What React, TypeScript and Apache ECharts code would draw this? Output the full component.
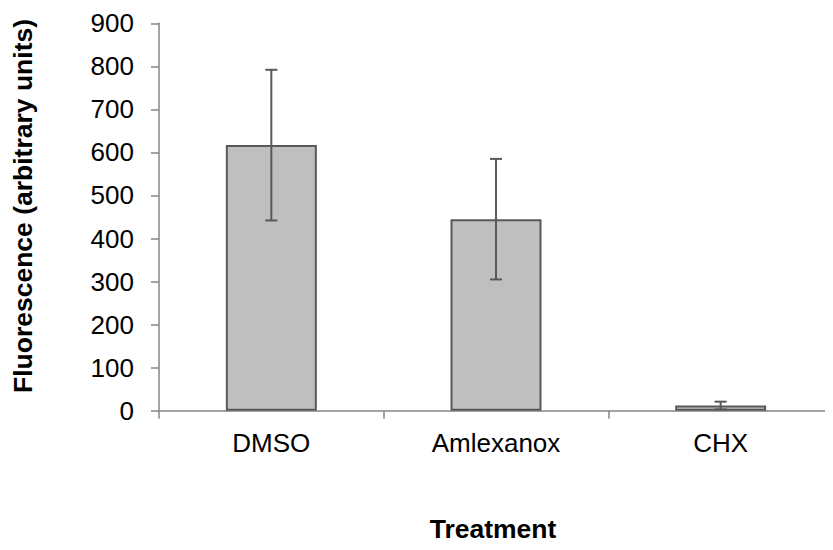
import React, { useEffect, useRef } from "react";
import * as echarts from "echarts";

const categories = ["DMSO", "Amlexanox", "CHX"];
const means = [617, 445, 12];
const errors = [175, 140, 9];
const yTicks = [0, 100, 200, 300, 400, 500, 600, 700, 800, 900];
const xTitle = "Treatment";
const yTitle = "Fluorescence (arbitrary units)";

const FONT = "Liberation Sans, Arial, sans-serif";
const AXIS = "#868686";
const DARK = "#595959";

export default function App() {
  const ref = useRef<HTMLDivElement>(null);
  useEffect(() => {
    if (!ref.current) return;
    const chart = echarts.init(ref.current, undefined, { renderer: "svg" });
    const errData = categories.map((c, i) => [i, means[i] - errors[i], means[i] + errors[i]]);
    chart.setOption({
      animation: false,
      backgroundColor: "#ffffff",
      grid: { left: 159, top: 23.3, height: 387.4, width: 678, containLabel: false },
      xAxis: {
        type: "category",
        data: categories,
        boundaryGap: true,
        axisLine: { lineStyle: { color: AXIS, width: 1.5 } },
        axisTick: { show: true, length: 8, lineStyle: { color: AXIS, width: 1.5 } },
        axisLabel: { color: "#000", fontFamily: FONT, fontSize: 26, margin: 19 },
        splitLine: { show: false },
      },
      yAxis: {
        type: "value",
        min: yTicks[0],
        max: yTicks[yTicks.length - 1],
        interval: 100,
        axisLine: { show: true, lineStyle: { color: AXIS, width: 1.5 } },
        axisTick: { show: true, length: 8, lineStyle: { color: AXIS, width: 1.5 } },
        axisLabel: { color: "#000", fontFamily: FONT, fontSize: 26, margin: 25 },
        splitLine: { show: false },
      },
      graphic: [
        {
          type: "text",
          x: 23,
          y: 206,
          rotation: Math.PI / 2,
          style: {
            text: yTitle,
            fontFamily: FONT,
            fontSize: 26.5,
            fontWeight: "bold",
            fill: "#000",
            align: "center",
            verticalAlign: "middle",
          },
        },
        {
          type: "text",
          x: 493,
          y: 529,
          style: {
            text: xTitle,
            fontFamily: FONT,
            fontSize: 26.5,
            fontWeight: "bold",
            fill: "#000",
            align: "center",
            verticalAlign: "middle",
          },
        },
      ],
      series: [
        {
          type: "bar",
          data: means,
          barWidth: 91,
          itemStyle: { color: "#bfbfbf", borderColor: DARK, borderWidth: 2 },
          z: 2,
        },
        {
          type: "custom",
          data: errData,
          z: 3,
          renderItem: (params: any, api: any) => {
            const x = api.value(0);
            const lo = api.coord([x, api.value(1)]);
            const hi = api.coord([x, api.value(2)]);
            const hw = 6;
            const st = { stroke: DARK, lineWidth: 2 };
            return {
              type: "group",
              children: [
                { type: "line", shape: { x1: hi[0], y1: hi[1], x2: lo[0], y2: lo[1] }, style: st },
                { type: "line", shape: { x1: hi[0] - hw, y1: hi[1], x2: hi[0] + hw, y2: hi[1] }, style: st },
                { type: "line", shape: { x1: lo[0] - hw, y1: lo[1], x2: lo[0] + hw, y2: lo[1] }, style: st },
              ],
            };
          },
        },
      ],
    });
    return () => chart.dispose();
  }, []);
  return <div ref={ref} style={{ width: 833, height: 550, margin: -8 }} />;
}
